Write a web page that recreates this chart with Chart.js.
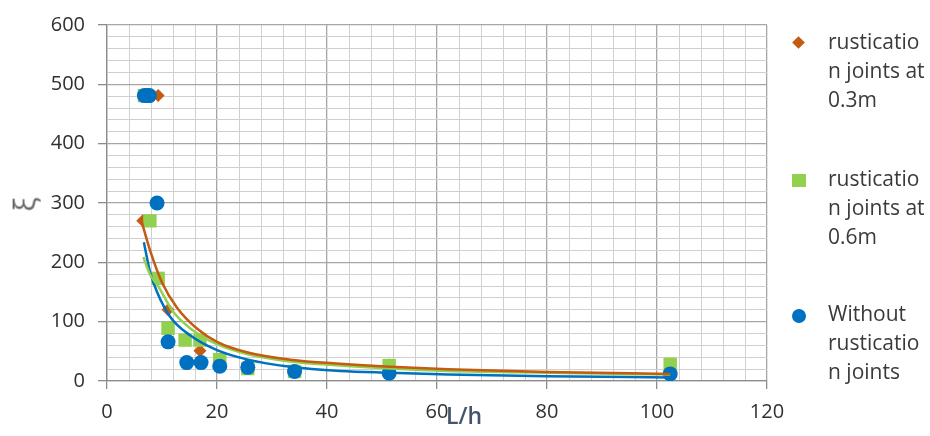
<!DOCTYPE html>
<html>
<head>
<meta charset="utf-8">
<style>
body { margin: 0; background: #fff; }
#wrap { position: relative; width: 930px; height: 436px; font-family: "Open Sans", sans-serif; }
#wrap canvas { position: absolute; left: 0; top: 0; }
.leg { position: absolute; left: 828px; font-size: 21px; line-height: 29px; color: #3a3a3a; }
.mk { position: absolute; }
#ytitle { position: absolute; left: 16px; top: 184px; font-size: 30px; color: #666; transform: rotate(-90deg); }
#xtitle { position: absolute; left: 446px; top: 399px; font-size: 23px; font-weight: 600; color: #44546a; }
</style>
</head>
<body>
<div id="wrap">
  <canvas id="myChart" width="930" height="436"></canvas>
  <div id="ytitle">ξ</div>
  <div id="xtitle">L/h</div>
  <div class="mk" style="left:794px;top:38px;width:9px;height:9px;background:#c55a11;transform:rotate(45deg)"></div>
  <div class="leg" style="top:27px">rusticatio<br>n joints at<br>0.3m</div>
  <div class="mk" style="left:792px;top:174px;width:14px;height:13px;background:#92d050"></div>
  <div class="leg" style="top:164px">rusticatio<br>n joints at<br>0.6m</div>
  <div class="mk" style="left:792px;top:309px;width:14px;height:14px;border-radius:50%;background:#0070c0"></div>
  <div class="leg" style="top:299px">Without<br>rusticatio<br>n joints</div>
</div>

<script src="https://cdn.jsdelivr.net/npm/chart.js"></script>

<script>
const xTickLabels = [0, 20, 40, 60, 80, 100, 120];
const yTickLabels = [0, 100, 200, 300, 400, 500, 600];

// measured points
const lh03 = [9.3, 6.5, 11.1, 16.9, 51.3, 102.4];
const xi03 = [481, 270, 120, 51, 27, 15];

const lh06 = [6.8, 7.8, 9.3, 11.1, 14.2, 16.9, 20.5, 25.6, 34.1, 51.3, 102.4];
const xi06 = [481, 270, 173, 89, 69, 69, 36, 21, 16, 26, 28];

const lh0 = [6.8, 7.3, 7.7, 9.1, 11.1, 14.5, 17.1, 20.5, 25.6, 34.1, 51.3, 102.4];
const xi0 = [481, 481, 481, 300, 66, 31, 31, 25, 23, 16, 13, 12];

// trend lines
const trendX03 = [6.2, 7.8, 10, 12.7, 16.4, 20, 25.6, 33.3, 42.4, 51.5, 62, 80, 102.4];
const trendY03 = [272, 221, 166, 124, 88, 66, 48, 36, 29, 24, 20, 15, 12];
const trendX06 = [6.6, 7.8, 9.3, 12, 15.1, 20, 25.6, 33.3, 42.4, 51.5, 62, 80, 102.4];
const trendY06 = [209, 180, 160, 117, 89, 62, 45, 33, 26, 21, 17, 14, 11];
const trendX0 = [6.7, 7.8, 9.1, 11.5, 15.1, 20, 25.6, 33.3, 42.4, 51.5, 62, 80, 102.4];
const trendY0 = [234, 185, 150, 108, 77, 52, 36, 24, 17, 14, 11, 8, 6];

const orange = '#c55a11', green = '#92d050', blue = '#0070c0';

function pts(xs, ys) {
  return xs.map((x, i) => ({ x: x, y: ys[i] }));
}

function trend(xs, ys, col) {
  return {
    type: 'line',
    data: pts(xs, ys),
    borderColor: col,
    borderWidth: 2.5,
    pointRadius: 0,
    fill: false,
    cubicInterpolationMode: 'monotone',
    order: 0
  };
}

const majorGrid = '#a6a6a6', minorGrid = '#d0d0d0';

const ctx = document.getElementById('myChart');
let chart = new Chart(ctx, {
  type: 'scatter',
  data: {
    datasets: [
      trend(trendX03, trendY03, orange),
      trend(trendX06, trendY06, green),
      trend(trendX0, trendY0, blue),
      { label: 'rustication joints at 0.3m', data: pts(lh03, xi03), pointStyle: 'rectRot', pointRadius: 6.5,
        backgroundColor: orange, borderColor: orange, borderWidth: 0, order: 3 },
      { label: 'rustication joints at 0.6m', data: pts(lh06, xi06), pointStyle: 'rect', pointRadius: 9.5,
        backgroundColor: green, borderColor: green, borderWidth: 0, order: 2 },
      { label: 'Without rustication joints', data: pts(lh0, xi0), pointStyle: 'circle', pointRadius: 7.5,
        backgroundColor: blue, borderColor: blue, borderWidth: 0, order: 1 }
    ]
  },
  options: {
    responsive: false,
    animation: false,
    layout: { padding: { top: 17, right: 163, left: 0, bottom: 0 } },
    plugins: { legend: { display: false }, tooltip: { enabled: false } },
    scales: {
      x: {
        type: 'linear',
        min: 0, max: 120,
        afterFit: s => { s.height = 55; },
        border: { color: '#8c8c8c', width: 1.3 },
        grid: {
          color: c => c.tick && c.tick.value % 20 === 0 ? majorGrid : minorGrid,
          lineWidth: c => c.tick && c.tick.value % 20 === 0 ? 1.3 : 1,
          tickColor: c => c.tick && c.tick.value % 20 === 0 ? '#8c8c8c' : 'rgba(0,0,0,0)',
          tickLength: 8
        },
        ticks: {
          stepSize: 4,
          autoSkip: false,
          maxRotation: 0,
          padding: 11,
          color: '#303030',
          font: { family: 'Open Sans', size: 20 },
          callback: v => xTickLabels.includes(v) ? v : ''
        }
      },
      y: {
        min: 0, max: 600,
        afterFit: s => { s.width = 107; },
        border: { color: '#8c8c8c', width: 1.3 },
        grid: {
          color: c => c.tick && c.tick.value % 100 === 0 ? majorGrid : minorGrid,
          lineWidth: c => c.tick && c.tick.value % 100 === 0 ? 1.3 : 1,
          tickColor: c => c.tick && c.tick.value % 100 === 0 ? '#8c8c8c' : 'rgba(0,0,0,0)',
          tickLength: 9
        },
        ticks: {
          stepSize: 20,
          autoSkip: false,
          padding: 13,
          color: '#303030',
          font: { family: 'Open Sans', size: 20 },
          callback: v => yTickLabels.includes(v) ? v : ''
        }
      }
    }
  }
});
</script>
</body>
</html>
